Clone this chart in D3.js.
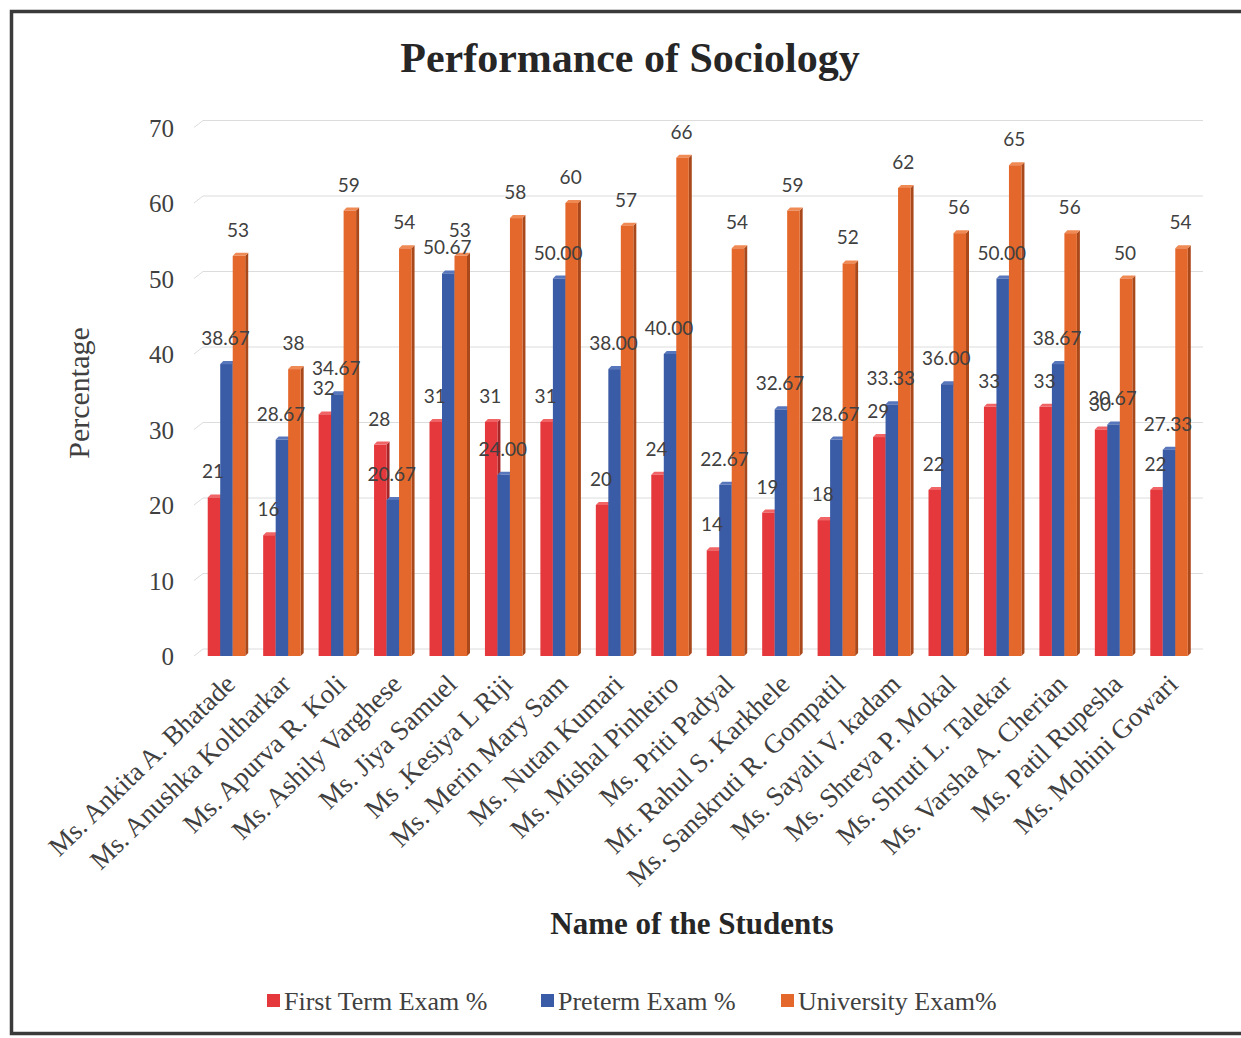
<!DOCTYPE html>
<html>
<head>
<meta charset="utf-8">
<script src="https://cdn.jsdelivr.net/npm/d3@7"></script>
<style>
  html, body { margin: 0; padding: 0; background: #fff; }
  svg { display: block; }
</style>
</head>
<body>
<svg id="chart" width="1241" height="1038"></svg>
<script>
const students = [
  "Ms. Ankita A. Bhatade", "Ms. Anushka Koltharkar", "Ms. Apurva R. Koli", "Ms. Ashily Varghese",
  "Ms. Jiya Samuel", "Ms .Kesiya L Riji", "Ms. Merin Mary Sam", "Ms. Nutan Kumari",
  "Ms. Mishal Pinheiro", "Ms. Priti Padyal", "Mr. Rahul S. Karkhele", "Ms. Sanskruti R. Gompatil",
  "Ms. Sayali V. kadam", "Ms. Shreya P. Mokal", "Ms. Shruti L. Talekar", "Ms. Varsha A. Cherian",
  "Ms. Patil Rupesha", "Ms. Mohini Gowari"
];
const firstTerm = [21, 16, 32, 28, 31, 31, 31, 20, 24, 14, 19, 18, 29, 22, 33, 33, 30, 22];
const preterm = [38.67, 28.67, 34.67, 20.67, 50.67, 24.00, 50.00, 38.00, 40.00, 22.67, 32.67, 28.67, 33.33, 36.00, 50.00, 38.67, 30.67, 27.33];
const university = [53, 38, 59, 54, 53, 58, 60, 57, 66, 54, 59, 52, 62, 56, 65, 56, 50, 54];
const seriesNames = ["First Term Exam %", "Preterm Exam %", "University Exam%"];
const yTicks = [0, 10, 20, 30, 40, 50, 60, 70];

const seriesValues = [firstTerm, preterm, university];
const seriesDecimals = [0, 2, 0];
const colors = [
  {front: "#e5383c", side: "#a82528", top: "#f06466"},
  {front: "#3a5ba5", side: "#273f78", top: "#5876bb"},
  {front: "#e4672b", side: "#a9481a", top: "#ef8a55"}
];

const svg = d3.select("#chart");

// frame
svg.append("rect")
  .attr("x", 11.5).attr("y", 11.5)
  .attr("width", 1260).attr("height", 1022)
  .attr("fill", "none").attr("stroke", "#3a3a3a").attr("stroke-width", 3.5);

const depth = 8; // back wall offset
const x = d3.scaleBand().domain(students).range([200, 1198]).paddingInner(0).paddingOuter(0);
const xs = d3.scaleBand().domain(d3.range(3)).range([0, 37.5]);
const y = d3.scaleLinear().domain([0, 70]).range([656, 127.5]);

// gridlines (back wall + side wall diagonal)
const grid = svg.append("g");
yTicks.forEach(t => {
  grid.append("path")
    .attr("d", `M194,${y(t)} L${194 + depth + 1},${y(t) - depth + 1} L1203,${y(t) - depth + 1}`)
    .attr("fill", "none").attr("stroke", "#dcdcdc").attr("stroke-width", 1);
});

// y axis labels
const yAxis = svg.append("g")
  .attr("transform", "translate(174,0)")
  .call(d3.axisLeft(y).tickValues(yTicks).tickSize(0).tickPadding(0).tickFormat(d3.format("d")));
yAxis.select(".domain").remove();
yAxis.selectAll("text")
  .attr("font-family", "'Liberation Serif', 'Times New Roman', serif")
  .attr("font-size", 25).attr("fill", "#404040").attr("dy", "0.34em");

// bars
const bw = xs.bandwidth();
const d = 3; // bar depth
const bars = svg.append("g");
students.forEach((s, i) => {
  const gx = x(s) + x.bandwidth() / 2 - 20;
  seriesValues.forEach((vals, k) => {
    const v = vals[i];
    const x0 = gx + xs(k);
    const yt = y(v), yb = y(0);
    const c = colors[k];
    // side face
    bars.append("path")
      .attr("d", `M${x0 + bw},${yt} L${x0 + bw + d},${yt - d} L${x0 + bw + d},${yb - d} L${x0 + bw},${yb} Z`)
      .attr("fill", c.side);
    // top face
    bars.append("path")
      .attr("d", `M${x0},${yt} L${x0 + d},${yt - d} L${x0 + bw + d},${yt - d} L${x0 + bw},${yt} Z`)
      .attr("fill", c.top);
    // front face
    bars.append("rect")
      .attr("x", x0).attr("y", yt)
      .attr("width", bw).attr("height", yb - yt)
      .attr("fill", c.front);
  });
});

// value labels
const labels = svg.append("g");
students.forEach((s, i) => {
  const gx = x(s) + x.bandwidth() / 2 - 20;
  seriesValues.forEach((vals, k) => {
    const v = vals[i];
    labels.append("text")
      .attr("x", gx + xs(k) + bw / 2 - 1)
      .attr("y", y(v) - 19)
      .attr("text-anchor", "middle")
      .attr("font-family", "Lato, 'Open Sans', sans-serif")
      .attr("font-size", 19).attr("fill", "#404040")
      .text(v.toFixed(seriesDecimals[k]));
  });
});

// x axis labels
const xAxis = svg.append("g")
  .attr("transform", "translate(0,656)")
  .call(d3.axisBottom(x).tickSize(0).tickPadding(0));
xAxis.select(".domain").remove();
xAxis.selectAll("text")
  .attr("font-family", "'Liberation Serif', 'Times New Roman', serif")
  .attr("font-size", 27).attr("fill", "#404040")
  .attr("text-anchor", "end")
  .attr("x", 0).attr("y", 0).attr("dy", 0)
  .attr("transform", "translate(9,30) rotate(-44)");

// title
svg.append("text")
  .attr("x", 630).attr("y", 72)
  .attr("text-anchor", "middle")
  .attr("font-family", "'Liberation Serif', 'Times New Roman', serif")
  .attr("font-weight", "bold").attr("font-size", 42).attr("fill", "#262626")
  .text("Performance of Sociology");

// axis titles
svg.append("text")
  .attr("x", 692).attr("y", 934)
  .attr("text-anchor", "middle")
  .attr("font-family", "'Liberation Serif', 'Times New Roman', serif")
  .attr("font-weight", "bold").attr("font-size", 31).attr("fill", "#262626")
  .text("Name of the Students");

svg.append("text")
  .attr("transform", "translate(89,393) rotate(-90)")
  .attr("text-anchor", "middle")
  .attr("font-family", "'Liberation Serif', 'Times New Roman', serif")
  .attr("font-size", 30).attr("fill", "#404040")
  .text("Percentage");

// legend
const legendX = [267, 541, 781];
const legend = svg.append("g");
seriesNames.forEach((n, k) => {
  legend.append("rect")
    .attr("x", legendX[k]).attr("y", 994)
    .attr("width", 13).attr("height", 13)
    .attr("fill", colors[k].front);
  legend.append("text")
    .attr("x", legendX[k] + 17).attr("y", 1010)
    .attr("font-family", "'Liberation Serif', 'Times New Roman', serif")
    .attr("font-size", 26).attr("fill", "#404040")
    .text(n);
});
</script>
</body>
</html>
